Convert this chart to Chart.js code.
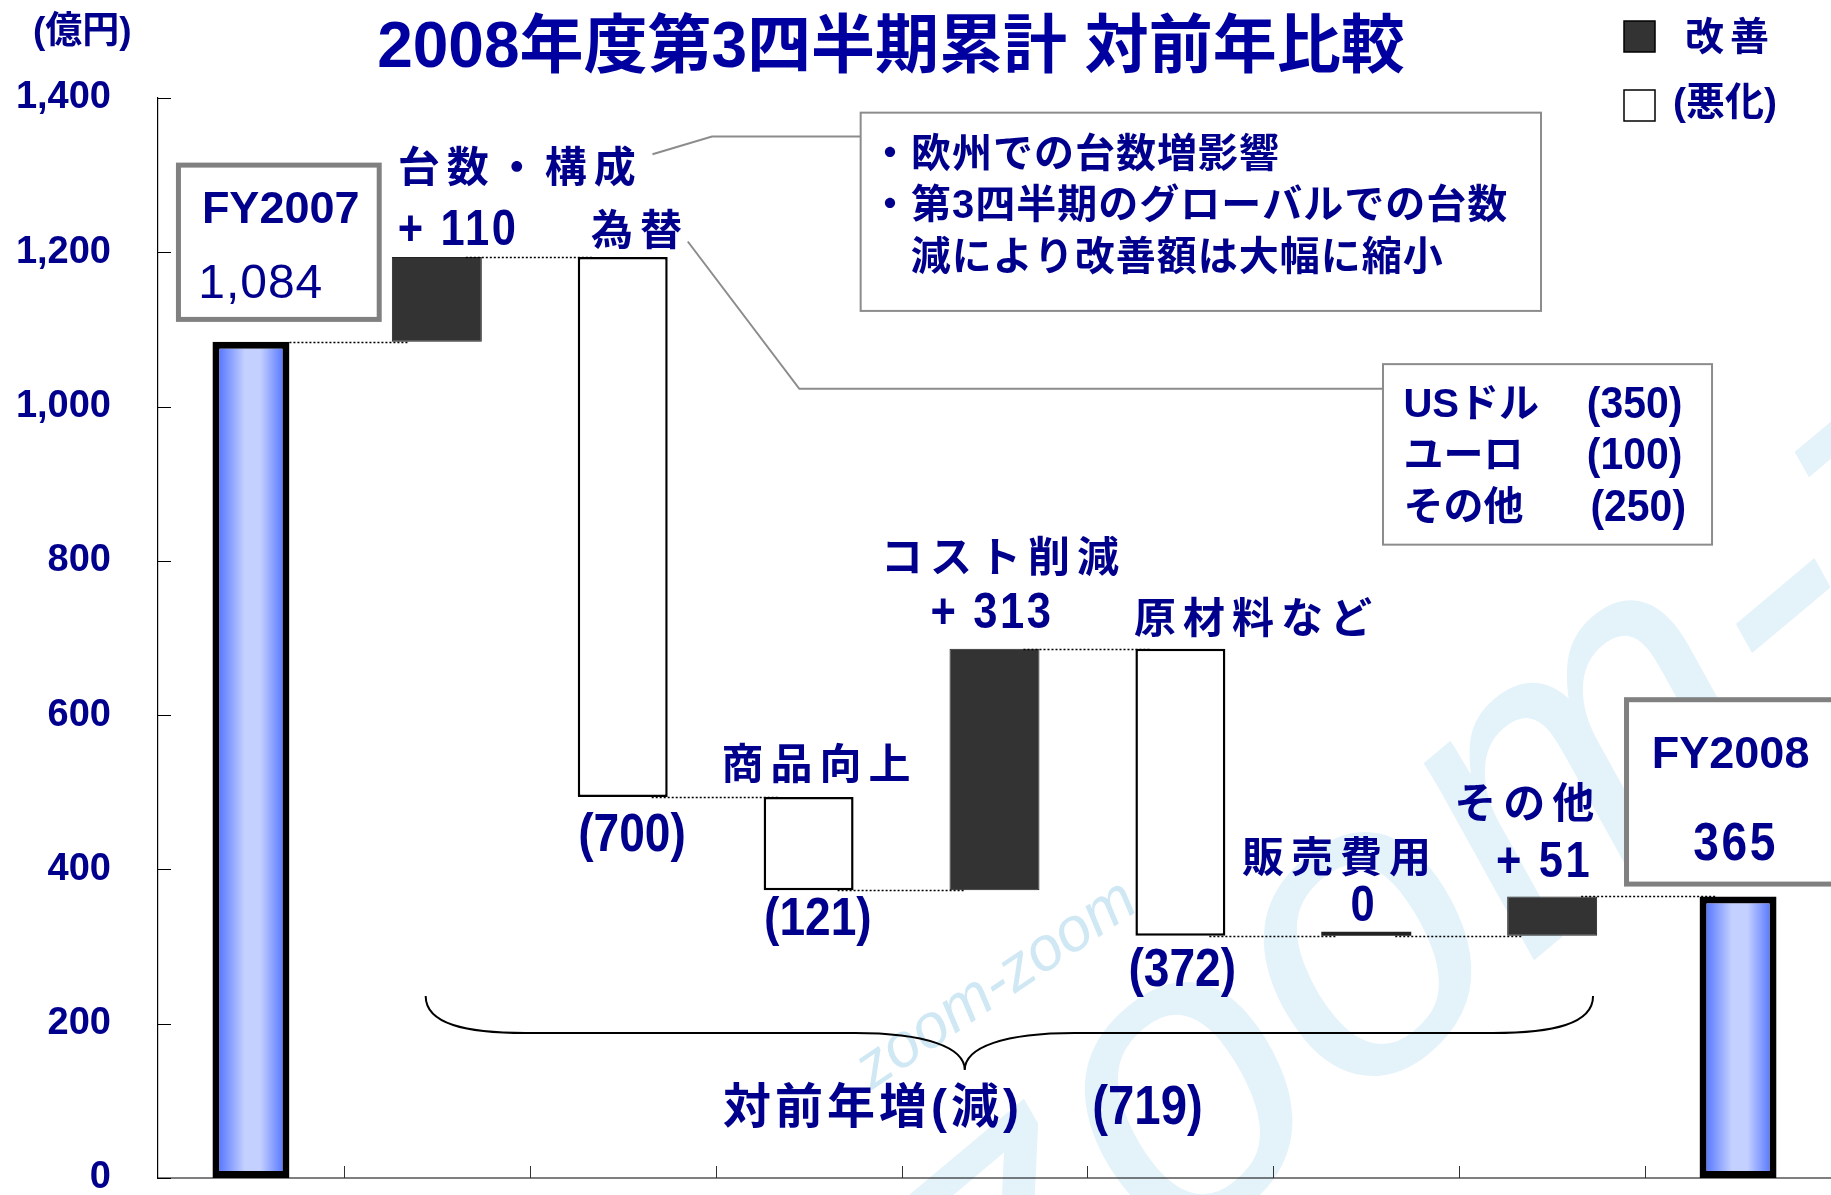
<!DOCTYPE html>
<html><head><meta charset="utf-8">
<script src="https://cdn.jsdelivr.net/npm/chart.js@4.4.1/dist/chart.umd.min.js"></script>
<style>html,body{margin:0;padding:0;background:#fff;}canvas{display:block}</style>
</head><body>
<canvas id="c" width="1831" height="1195"></canvas>
<script>
// ---- data ----
const categories = ['FY2007','台数・構成','為替','商品向上','コスト削減','原材料など','販売費用','その他','FY2008'];
const totalValues = [1084, null, null, null, null, null, null, null, 365];
const changeValues = [null, 110, -700, -121, 313, -372, 0, 51, null];
const changeLabels = ['', '+ 110', '(700)', '(121)', '+ 313', '(372)', '0', '+ 51', ''];
const totalLabels = ['1,084', '', '', '', '', '', '', '', '365'];
const totalNames = ['FY2007', '', '', '', '', '', '', '', 'FY2008'];
const yTickValues = [0, 200, 400, 600, 800, 1000, 1200, 1400];
const fxItems = ['USドル', 'ユーロ', 'その他'];
const fxValues = ['(350)', '(100)', '(250)'];
const volumeNotes = ['・欧州での台数増影響', '・第3四半期のグローバルでの台数', '減により改善額は大幅に縮小'];
const unitLabel = '(億円)';
const titleText = '2008年度第3四半期累計 対前年比較';
const legendLabels = ['改善', '(悪化)'];
const totalChangeName = '対前年増(減)';
const totalChangeValue = '(719)';

// floating bars built from the changes
let running = totalValues[0];
const floating = changeValues.map(v => {
  if (v === null) return null;
  const r = [running, running + v];
  running += v;
  return r;
});
const levels = categories.map((c, i) => totalValues[i] !== null ? totalValues[i] : floating[i][1]);

const NAVY = '#00008C';
const FONT = '"Liberation Sans", "Noto Sans CJK JP", sans-serif';

function txt(ctx, s, x, y, o) {
  ctx.save();
  ctx.font = `${o.weight || 'bold'} ${o.size}px ${FONT}`;
  ctx.fillStyle = o.color || NAVY;
  const align = o.align || 'center';
  ctx.textAlign = align;
  ctx.textBaseline = 'middle';
  const ls = o.ls || 0;
  ctx.letterSpacing = ls + 'px';
  let dx = 0;
  if (align === 'center') dx = ls / 2;
  if (align === 'right') dx = ls;
  ctx.translate(x, y + (o.dy || 0));
  ctx.scale(o.sx || 1, 1);
  ctx.fillText(s, dx, 0);
  ctx.restore();
}

const annotate = {
  id: 'annotate',
  beforeDraw(chart) {
    const ctx = chart.ctx;
    ctx.save();
    ctx.fillStyle = '#fff';
    ctx.fillRect(0, 0, chart.width, chart.height);
    // watermark
    ctx.fillStyle = '#E4F3FA';
    ctx.translate(1010, 1400);
    ctx.rotate(-40 * Math.PI / 180);
    ctx.font = `italic 420px ${FONT}`;
    ctx.fillText('zoom-zoom', 0, 0);
    ctx.restore();
    ctx.save();
    ctx.fillStyle = '#CFE8F4';
    ctx.translate(872, 1090);
    ctx.rotate(-34 * Math.PI / 180);
    ctx.font = `italic 62px ${FONT}`;
    ctx.fillText('zoom-zoom', 0, 0);
    ctx.restore();
  },
  afterDraw(chart) {
    const ctx = chart.ctx;
    const xs = chart.scales.x, ys = chart.scales.y;
    const step = xs.getPixelForValue(1) - xs.getPixelForValue(0);
    const X = c => xs.getPixelForValue(0) + c * step;
    const Y = v => ys.getPixelForValue(v);
    const area = chart.chartArea;

    // x axis line and tick marks
    ctx.save();
    ctx.strokeStyle = '#000';
    ctx.lineWidth = 1.2;
    ctx.beginPath(); ctx.moveTo(area.left, area.bottom); ctx.lineTo(area.right, area.bottom); ctx.stroke();
    ctx.lineWidth = 1;
    yTickValues.forEach(v => {
      const yy = Math.round(Y(v)) + 0.5;
      ctx.beginPath(); ctx.moveTo(area.left, yy); ctx.lineTo(area.left + 13, yy); ctx.stroke();
    });
    ctx.strokeStyle = '#333';
    for (let i = 0; i < categories.length; i++) {
      const bx = Math.round(X(i + 0.5)) + 0.5;
      ctx.beginPath(); ctx.moveTo(bx, area.bottom); ctx.lineTo(bx, area.bottom - 12); ctx.stroke();
    }
    ctx.restore();

    // connectors
    const m0 = chart.getDatasetMeta(0).data, m1 = chart.getDatasetMeta(1).data;
    const el = i => totalValues[i] !== null ? m0[i] : m1[i];
    ctx.save();
    ctx.strokeStyle = '#000';
    ctx.lineWidth = 1.5;
    ctx.setLineDash([2, 2]);
    for (let i = 0; i < categories.length - 1; i++) {
      const a = el(i), b = el(i + 1);
      const x1 = a.x + a.width / 2 - (totalValues[i] !== null ? 0 : 16);
      const x2 = b.x - b.width / 2 + 16;
      const y = Math.round(Y(levels[i])) + 0.5;
      ctx.beginPath(); ctx.moveTo(x1, y); ctx.lineTo(x2, y); ctx.stroke();
    }
    ctx.restore();

    // title, unit, legend
    txt(ctx, unitLabel, 33, 33, { size: 37, align: 'left' });
    txt(ctx, titleText, 891, 49, { size: 64, color: '#0000A0' });
    ctx.save();
    ctx.lineWidth = 1.5; ctx.strokeStyle = '#000';
    ctx.fillStyle = '#333'; ctx.fillRect(1624, 21, 31, 31); ctx.strokeRect(1624, 21, 31, 31);
    ctx.fillStyle = '#fff'; ctx.fillRect(1624, 90, 31, 31); ctx.strokeRect(1624, 90, 31, 31);
    ctx.restore();
    txt(ctx, legendLabels[0], 1685, 39, { size: 39, align: 'left', ls: 6 });
    txt(ctx, legendLabels[1], 1673, 104, { size: 39, align: 'left' });

    // total boxes
    const box = (c1, c2, v1, v2, w, col) => {
      ctx.save();
      ctx.fillStyle = '#fff';
      ctx.strokeStyle = col; ctx.lineWidth = w;
      const x = X(c1), y = Y(v1), ww = X(c2) - X(c1), hh = Y(v2) - Y(v1);
      ctx.fillRect(x, y, ww, hh); ctx.strokeRect(x, y, ww, hh);
      ctx.restore();
    };
    const D = 4; // glyph centring offset
    const num = { size: 53, sx: 0.87, dy: 2 };
    box(-0.39, 0.69, 1313, 1113, 5, '#808080');
    txt(ctx, totalNames[0], X(0.16), Y(1256), { size: 45, dy: 2 });
    txt(ctx, totalLabels[0], X(0.05), Y(1160), { size: 48, weight: 'normal', ls: 1, dy: 2 });
    box(7.40, 8.60, 620, 381, 5, '#808080');
    txt(ctx, totalNames[8], X(7.96), Y(550), { size: 45, dy: 2 });
    txt(ctx, totalLabels[8], X(7.98), Y(434), { ...num, ls: 3 });

    // change labels
    const catLbl = { size: 42, ls: 7, dy: D };
    txt(ctx, categories[1], X(0.79), Y(1311), { ...catLbl, align: 'left' });
    txt(ctx, changeLabels[1], X(0.79), Y(1230), { ...num, size: 50, align: 'left', ls: 3 });
    txt(ctx, categories[2], X(1.83), Y(1229), { ...catLbl, align: 'left' });
    txt(ctx, changeLabels[2], X(2.05), Y(446), num);
    txt(ctx, categories[3], X(3.04), Y(537), catLbl);
    txt(ctx, changeLabels[3], X(3.05), Y(337), num);
    txt(ctx, categories[4], X(4.03), Y(806), catLbl);
    txt(ctx, changeLabels[4], X(3.98), Y(734), { ...num, size: 50, ls: 3 });
    txt(ctx, categories[5], X(5.39), Y(727), catLbl);
    txt(ctx, changeLabels[5], X(5.01), Y(271), num);
    txt(ctx, categories[6], X(5.84), Y(417), catLbl);
    txt(ctx, changeLabels[6], X(5.98), Y(354), { ...num, size: 50 });
    txt(ctx, categories[7], X(6.85), Y(487), catLbl);
    txt(ctx, changeLabels[7], X(6.95), Y(410), { ...num, size: 50, ls: 3 });

    // callouts
    ctx.save();
    ctx.strokeStyle = '#8C8C8C'; ctx.lineWidth = 2;
    ctx.beginPath(); ctx.moveTo(X(2.16), Y(1327)); ctx.lineTo(X(2.48), Y(1350)); ctx.lineTo(X(3.28), Y(1350)); ctx.stroke();
    ctx.beginPath(); ctx.moveTo(X(2.35), Y(1214)); ctx.lineTo(X(2.95), Y(1023)); ctx.lineTo(X(6.09), Y(1023)); ctx.stroke();
    ctx.fillStyle = '#fff';
    let bx = X(3.28), by = Y(1381), bw = X(6.94) - bx, bh = Y(1124) - by;
    ctx.fillRect(bx, by, bw, bh); ctx.strokeRect(bx, by, bw, bh);
    bx = X(6.09); by = Y(1055); bw = X(7.86) - bx; bh = Y(821) - by;
    ctx.fillRect(bx, by, bw, bh); ctx.strokeRect(bx, by, bw, bh);
    ctx.restore();
    txt(ctx, volumeNotes[0], X(3.33), Y(1330), { size: 40, align: 'left', ls: 1, dy: D });
    txt(ctx, volumeNotes[1], X(3.33), Y(1264), { size: 40, align: 'left', ls: 1, dy: D });
    txt(ctx, volumeNotes[2], X(3.55), Y(1197), { size: 40, align: 'left', ls: 1, dy: D });
    const rows = [1005, 939, 871];
    fxItems.forEach((s, i) => {
      txt(ctx, s, X(6.20), Y(rows[i]), { size: 40, align: 'left', dy: 3 });
      txt(ctx, fxValues[i], X(i === 2 ? 7.72 : 7.70), Y(rows[i]), { size: 44, sx: 0.93, align: 'right', dy: 3 });
    });

    // brace
    const L = { x: X(0.94), y: Y(236) }, R = { x: X(7.22), y: Y(236) };
    const T = { x: X(3.84), y: Y(140) }, H = Y(188);
    ctx.save();
    ctx.strokeStyle = '#000'; ctx.lineWidth = 2;
    ctx.beginPath();
    ctx.moveTo(L.x, L.y);
    ctx.bezierCurveTo(L.x, L.y + 28, L.x + 40, H, L.x + 100, H);
    ctx.lineTo(T.x - 110, H);
    ctx.bezierCurveTo(T.x - 40, H, T.x, H + 14, T.x, T.y);
    ctx.bezierCurveTo(T.x, H + 14, T.x + 40, H, T.x + 110, H);
    ctx.lineTo(R.x - 100, H);
    ctx.bezierCurveTo(R.x - 40, H, R.x, L.y + 28, R.x, R.y);
    ctx.stroke();
    ctx.restore();
    txt(ctx, totalChangeName, X(2.54), Y(93), { size: 48, align: 'left', ls: 4, dy: D });
    txt(ctx, totalChangeValue, X(5.12), Y(93), { size: 55, sx: 0.86, align: 'right', dy: 3 });
  }
};

const ctx = document.getElementById('c').getContext('2d');
new Chart(ctx, {
  type: 'bar',
  data: {
    labels: categories,
    datasets: [
      {
        label: 'total',
        data: totalValues,
        grouped: false,
        barPercentage: 0.414,
        categoryPercentage: 1,
        borderWidth: 7,
        borderColor: '#000',
        borderSkipped: false,
        backgroundColor: (c) => {
          const chart = c.chart;
          const xs = chart.scales.x;
          if (!xs || !chart.chartArea) return '#6f8fff';
          const step = xs.getPixelForValue(1) - xs.getPixelForValue(0);
          const cx = xs.getPixelForValue(c.dataIndex);
          const w = step * 0.414;
          const g = chart.ctx.createLinearGradient(cx - w / 2, 0, cx + w / 2, 0);
          g.addColorStop(0, '#3E63FF');
          g.addColorStop(0.42, '#C4D0FF');
          g.addColorStop(0.62, '#C4D0FF');
          g.addColorStop(1, '#3E63FF');
          return g;
        }
      },
      {
        label: 'change',
        data: floating,
        grouped: false,
        barPercentage: 0.484,
        categoryPercentage: 1,
        minBarLength: 4,
        borderSkipped: false,
        backgroundColor: (c) => (changeValues[c.dataIndex] > 0 ? '#333333' : (changeValues[c.dataIndex] === 0 ? '#222222' : '#FFFFFF')),
        borderColor: (c) => (changeValues[c.dataIndex] >= 0 ? '#222222' : '#000000'),
        borderWidth: (c) => (changeValues[c.dataIndex] > 0 ? 1 : (changeValues[c.dataIndex] === 0 ? 0 : 2.5))
      }
    ]
  },
  options: {
    responsive: false,
    animation: false,
    devicePixelRatio: 1,
    layout: { autoPadding: false, padding: { top: 98, bottom: 17, left: 0, right: 0 } },
    plugins: { legend: { display: false }, tooltip: { enabled: false } },
    scales: {
      x: {
        display: false
      },
      y: {
        min: 0, max: 1400,
        afterBuildTicks: (s) => { s.ticks = yTickValues.map(v => ({ value: v })); },
        ticks: {
          padding: 0,
          color: NAVY,
          font: { family: FONT, size: 38, weight: 'bold' },
          callback: (v) => v.toLocaleString('en-US')
        },
        grid: { display: false, drawTicks: true, tickLength: 47 },
        border: { display: true, color: '#000', width: 1.2 },
        afterFit: (s) => { s.width = 158; s.paddingTop = 0; s.paddingBottom = 0; }
      }
    }
  },
  plugins: [annotate]
});
</script>
</body></html>
